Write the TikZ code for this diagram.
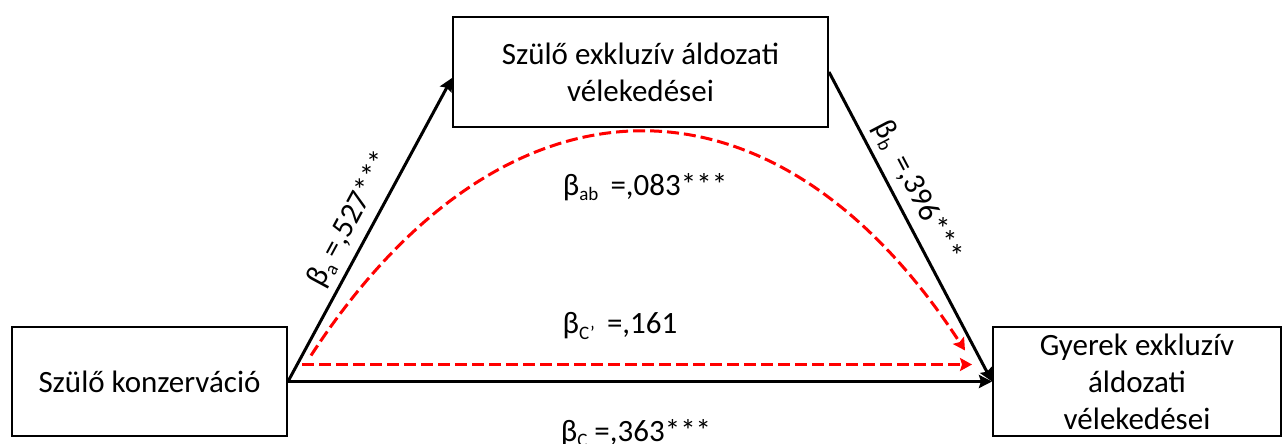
\documentclass[tikz,border=0pt]{standalone}
\usepackage{fontspec}
\setmainfont{Carlito}
\usetikzlibrary{arrows.meta}
\newcommand\bsub[1]{\raisebox{-0.35ex}{\fontsize{19}{19}\selectfont #1}}
\begin{document}
\begin{tikzpicture}[x=1pt,y=-1pt,
  box/.style={draw,line width=2pt,inner sep=0pt,align=center,font=\fontsize{31}{37}\selectfont},
  lbl/.style={font=\fontsize{31}{34}\selectfont,inner sep=2pt},
  blk/.style={line width=3pt,-{Stealth[length=13pt,width=13pt,inset=2pt]}},
  red/.style={draw=red,line width=3pt,dash pattern=on 12pt off 5pt,-{Stealth[length=12pt,width=13pt,inset=2pt,fill=red]}}]
\useasboundingbox (0,0) rectangle (1282,444);
\node[box,minimum width=275pt,minimum height=109pt] (L) at (149.5,381.5) {Szülő konzerváció};
\node[box,minimum width=375pt,minimum height=110pt] (T) at (640.5,72) {Szülő exkluzív áldozati\\vélekedései};
\node[box,minimum width=288pt,minimum height=109pt] (R) at (1137,381.5) {Gyerek exkluzív\\áldozati\\vélekedései};
\draw[blk] (L.east) -- node[lbl,sloped,above,pos=0.5,inner sep=7pt] (la) {β\bsub{a} =,527***} ([yshift=-6pt]T.west);
\draw[blk] (T.east) -- node[lbl,sloped,above,pos=0.42,inner sep=7pt] (lb) {β\bsub{b} \,=,396***} (R.west);
\draw[blk] (L.east) -- (R.west);
\draw[red] ([xshift=14pt,yshift=17pt]L.east) -- ([xshift=-20pt,yshift=17pt]R.west);
\draw[red] ([xshift=23pt,yshift=26pt]L.east) .. controls (505,58) and (775,58) .. ([xshift=-27pt,yshift=31pt]R.west);
\node[lbl] (lab) at (645,187) {β\bsub{ab} \,=,083***};
\node[lbl] (lcp) at (620,326) {β\bsub{C’} \,=,161};
\node[lbl] (lc) at (636,433) {β\bsub{C} =,363***};
\end{tikzpicture}
\end{document}
